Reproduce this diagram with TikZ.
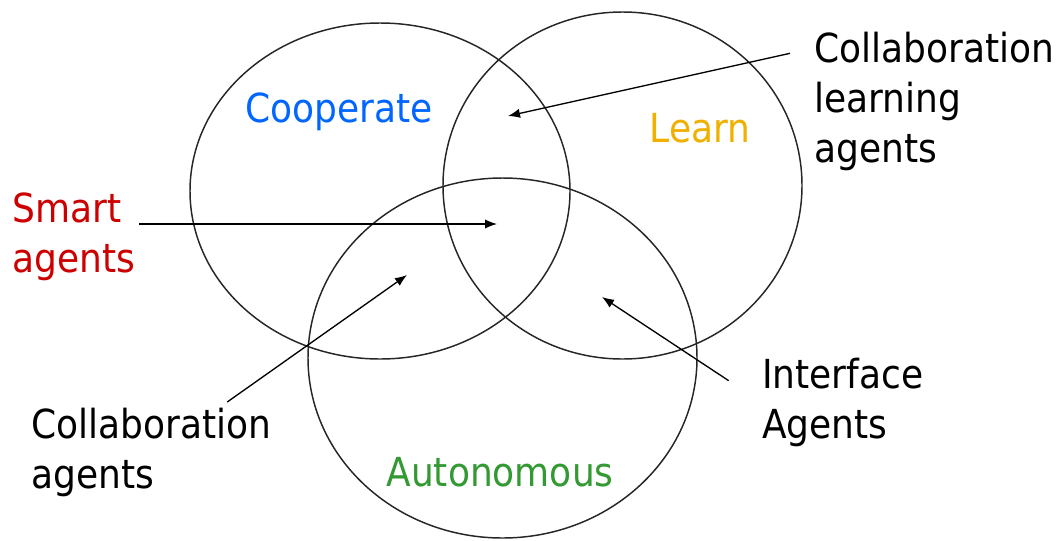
\documentclass[tikz,border=0pt]{standalone}
\usepackage{fontspec}
\setmainfont{DejaVu Sans}[FakeStretch=0.9]
\usetikzlibrary{arrows.meta}

\definecolor{coopblue}{RGB}{0,102,255}
\definecolor{learnyellow}{RGB}{240,176,0}
\definecolor{autogreen}{RGB}{51,153,51}
\definecolor{smartred}{RGB}{204,0,0}

\begin{document}
\begin{tikzpicture}[x=0.75pt,y=-0.75pt,
    set/.style={draw=black!85,line width=1.1pt},
    tag/.style={inner sep=0pt,align=left,font=\fontsize{30}{37.5}\selectfont},
    pointer/.style={-{Latex[length=9pt,width=7pt]},line width=1pt}]
    \useasboundingbox (0,0) rectangle (1063,540);

    % the three sets
    \draw[set] (380,191) ellipse [x radius=190, y radius=168];
    \draw[set] (622.5,185.5) ellipse [x radius=179.5, y radius=173.5];
    \draw[set] (502.5,358) ellipse [x radius=194.5, y radius=180];

    % set names
    \node[tag,anchor=base,text=coopblue] (coop) at (339,122) {Cooperate};
    \node[tag,anchor=base,text=learnyellow] (learn) at (700,142) {Learn};
    \node[tag,anchor=base,text=autogreen] (auto) at (500,486) {Autonomous};

    % kinds of agents
    \node[tag,anchor=north west,text=smartred] (smart) at (12,193) {Smart\\agents};
    \node[tag,anchor=north west] (collab) at (31,408) {Collaboration\\agents};
    \node[tag,anchor=north west] (learning) at (814,32) {Collaboration\\learning\\agents};
    \node[tag,anchor=north west] (iface) at (762,358) {Interface\\Agents};

    % overlaps they point into
    \coordinate (allthree) at (497,224);
    \coordinate (coopauto) at (407,275);
    \coordinate (cooplearn) at (508,116);
    \coordinate (learnauto) at (602,297);

    \draw[pointer] (smart.east |- allthree) ++(3pt,0) -- (allthree);
    \draw[pointer] ([xshift=57pt,yshift=4.5pt]collab.north) -- (coopauto);
    \draw[pointer] ([xshift=-18pt,yshift=-16pt]learning.north west) -- (cooplearn);
    \draw[pointer] ([xshift=-25pt,yshift=-17pt]iface.north west) -- (learnauto);
\end{tikzpicture}
\end{document}
